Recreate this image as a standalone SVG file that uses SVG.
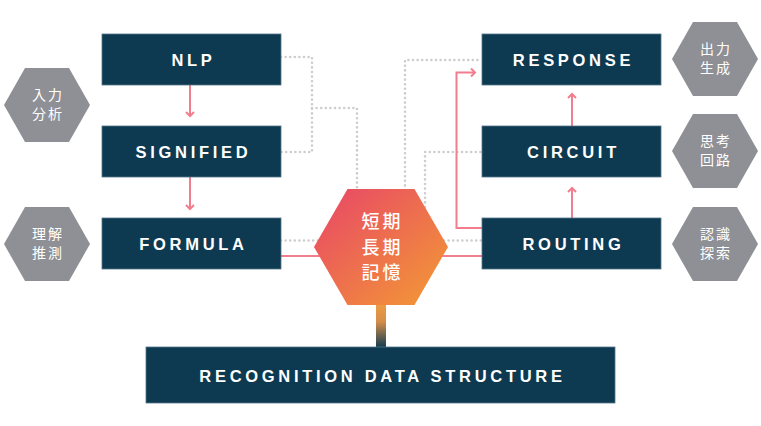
<svg xmlns="http://www.w3.org/2000/svg" width="761" height="426" viewBox="0 0 761 426">
<style>
.box{fill:#0d3a51;stroke:#56768a;stroke-width:0.8}
.lbl{font-family:"Liberation Sans",Arial,sans-serif;font-weight:bold;font-size:16.5px;letter-spacing:3.7px;fill:#ffffff;text-anchor:middle}
.ghex{fill:#8f9095}
.jp{font-family:"Noto Sans CJK JP","Noto Sans CJK SC",sans-serif;font-size:14px;letter-spacing:2px;fill:#ffffff;text-anchor:middle}
.jpc{font-family:"Noto Sans CJK JP","Noto Sans CJK SC",sans-serif;font-size:18px;font-weight:500;letter-spacing:3px;fill:#ffffff;text-anchor:middle}
.dot{fill:none;stroke:#cdcdcd;stroke-width:2.6;stroke-linecap:round;stroke-dasharray:0 4.6}
.pk{fill:none;stroke:#f27d8e;stroke-width:2}
</style>
<defs>
<linearGradient id="hexg" x1="0" y1="0" x2="1" y2="1">
<stop offset="0" stop-color="#e84568"/>
<stop offset="1" stop-color="#f39b33"/>
</linearGradient>
<linearGradient id="stemg" x1="0" y1="0" x2="0" y2="1">
<stop offset="0" stop-color="#ee9a42"/>
<stop offset="0.4" stop-color="#d48e4a"/>
<stop offset="1" stop-color="#0d3a51"/>
</linearGradient>
<marker id="ah" markerUnits="userSpaceOnUse" markerWidth="12" markerHeight="12" viewBox="-6 -6 12 12" refX="0" refY="0" orient="auto">
<path d="M-4,-4 L0,0 L-4,4" fill="none" stroke="#f27d8e" stroke-width="2" stroke-linejoin="miter"/>
</marker>
</defs>
<g id="connectors">
<path class="dot" d="M281,57 H312 V152 H281"/>
<path class="dot" d="M312,108 H357 V190"/>
<path class="dot" d="M281,240.5 H319"/>
<path class="dot" d="M405,190 V60 H481"/>
<path class="dot" d="M425,207 V152 H481"/>
<path class="dot" d="M444,240.5 H481"/>
<path class="pk" d="M190,85 V116" marker-end="url(#ah)"/>
<path class="pk" d="M190,177 V209" marker-end="url(#ah)"/>
<path class="pk" d="M572,218 V188" marker-end="url(#ah)"/>
<path class="pk" d="M572,126 V94" marker-end="url(#ah)"/>
<path class="pk" d="M482,228 H456.5 V72.5 H475" marker-end="url(#ah)"/>
<path class="pk" d="M281,256 H321"/>
<path class="pk" d="M442,256 H482"/>
<rect x="376" y="304" width="10" height="44" fill="url(#stemg)"/>
</g>
<g id="nlp"><rect class="box" x="102" y="34" width="179" height="51"/><text class="lbl" x="193.5" y="65.5">NLP</text></g>
<g id="signified"><rect class="box" x="102" y="126" width="179" height="51"/><text class="lbl" x="193.5" y="157.5">SIGNIFIED</text></g>
<g id="formula"><rect class="box" x="102" y="218" width="179" height="51"/><text class="lbl" x="193.5" y="249.5">FORMULA</text></g>
<g id="response"><rect class="box" x="482" y="34" width="179" height="51"/><text class="lbl" x="573.5" y="65.5">RESPONSE</text></g>
<g id="circuit"><rect class="box" x="482" y="126" width="179" height="51"/><text class="lbl" x="573.5" y="157.5">CIRCUIT</text></g>
<g id="routing"><rect class="box" x="482" y="218" width="179" height="51"/><text class="lbl" x="573.5" y="249.5">ROUTING</text></g>
<g id="rds"><rect class="box" x="146" y="347" width="469" height="56"/><text class="lbl" x="382.5" y="382">RECOGNITION DATA STRUCTURE</text></g>
<g id="memory">
<polygon points="314,247 347.5,189 414.5,189 448,247 414.5,305 347.5,305" fill="url(#hexg)"/>
<text class="jpc" x="382.5" y="228">短期</text>
<text class="jpc" x="382.5" y="253.5">長期</text>
<text class="jpc" x="382.5" y="279">記憶</text>
</g>
<g id="hex-input">
<polygon class="ghex" points="4,105 25,68 69,68 90,105 69,142 25,142"/>
<text class="jp" x="48" y="99.5">入力</text><text class="jp" x="48" y="118.5">分析</text>
</g>
<g id="hex-understand">
<polygon class="ghex" points="4,244 25,207 69,207 90,244 69,281 25,281"/>
<text class="jp" x="48" y="238.5">理解</text><text class="jp" x="48" y="257.5">推測</text>
</g>
<g id="hex-output">
<polygon class="ghex" points="672,59 693,22 737,22 758,59 737,96 693,96"/>
<text class="jp" x="716" y="53.5">出力</text><text class="jp" x="716" y="72.5">生成</text>
</g>
<g id="hex-think">
<polygon class="ghex" points="672,151 693,114 737,114 758,151 737,188 693,188"/>
<text class="jp" x="716" y="145.5">思考</text><text class="jp" x="716" y="164.5">回路</text>
</g>
<g id="hex-search">
<polygon class="ghex" points="672,244 693,207 737,207 758,244 737,281 693,281"/>
<text class="jp" x="716" y="238.5">認識</text><text class="jp" x="716" y="257.5">探索</text>
</g>
</svg>
